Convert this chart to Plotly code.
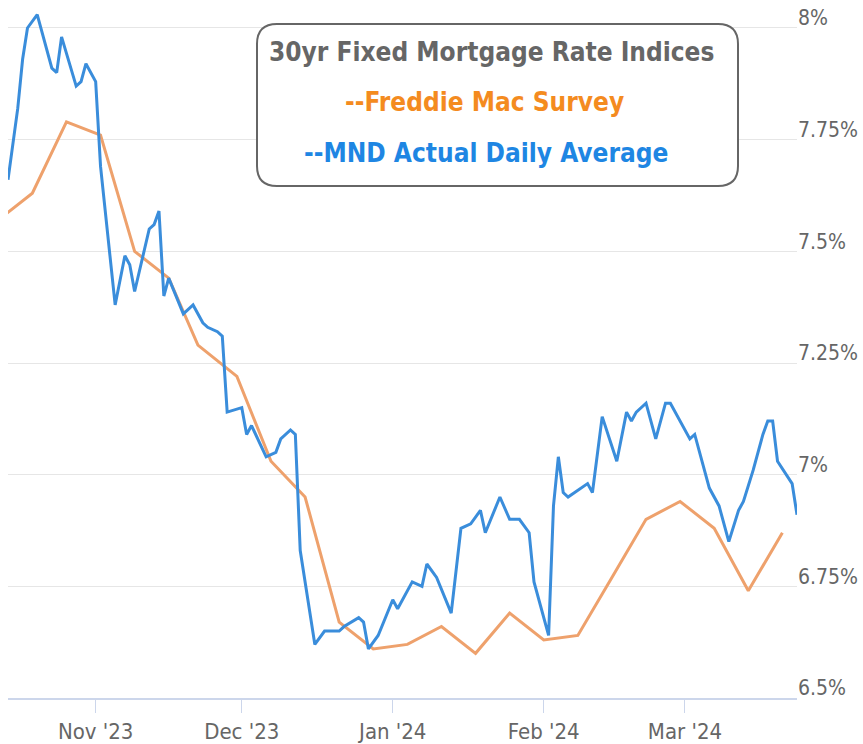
import plotly.graph_objects as go

# ---------------- data ----------------
mnd_dates = [
    "2023-10-14", "2023-10-16", "2023-10-17", "2023-10-18", "2023-10-20", "2023-10-23",
    "2023-10-24", "2023-10-25", "2023-10-28", "2023-10-29", "2023-10-30", "2023-11-01",
    "2023-11-02", "2023-11-05", "2023-11-07", "2023-11-08", "2023-11-09", "2023-11-12",
    "2023-11-13", "2023-11-14", "2023-11-15", "2023-11-16", "2023-11-19", "2023-11-21",
    "2023-11-23", "2023-11-24", "2023-11-26", "2023-11-27", "2023-11-28", "2023-12-01",
    "2023-12-02", "2023-12-03", "2023-12-06", "2023-12-08", "2023-12-09", "2023-12-11",
    "2023-12-12", "2023-12-13", "2023-12-16", "2023-12-18", "2023-12-19", "2023-12-21",
    "2023-12-22", "2023-12-25", "2023-12-26", "2023-12-27", "2023-12-29", "2024-01-01",
    "2024-01-02", "2024-01-05", "2024-01-07", "2024-01-08", "2024-01-10", "2024-01-13",
    "2024-01-15", "2024-01-17", "2024-01-19", "2024-01-20", "2024-01-23", "2024-01-25",
    "2024-01-27", "2024-01-29", "2024-01-30", "2024-02-02", "2024-02-03", "2024-02-04",
    "2024-02-05", "2024-02-06", "2024-02-10", "2024-02-11", "2024-02-13", "2024-02-16",
    "2024-02-18", "2024-02-19", "2024-02-20", "2024-02-22", "2024-02-24", "2024-02-26",
    "2024-02-27", "2024-02-29", "2024-03-02", "2024-03-03", "2024-03-06", "2024-03-08",
    "2024-03-10", "2024-03-12", "2024-03-13", "2024-03-15", "2024-03-17", "2024-03-18",
    "2024-03-19", "2024-03-20", "2024-03-23", "2024-03-24",
]
mnd_rates = [
    7.66, 7.82, 7.93, 8.00, 8.03, 7.91,
    7.90, 7.98, 7.87, 7.88, 7.92, 7.88,
    7.69, 7.38, 7.49, 7.47, 7.41, 7.55,
    7.56, 7.59, 7.40, 7.44, 7.36, 7.38,
    7.34, 7.33, 7.32, 7.31, 7.14, 7.15,
    7.09, 7.11, 7.04, 7.05, 7.08, 7.10,
    7.09, 6.83, 6.62, 6.65, 6.65, 6.65,
    6.66, 6.68, 6.67, 6.61, 6.64, 6.72,
    6.70, 6.76, 6.75, 6.80, 6.77, 6.69,
    6.88, 6.89, 6.92, 6.87, 6.95, 6.90,
    6.90, 6.87, 6.76, 6.64, 6.93, 7.04,
    6.96, 6.95, 6.98, 6.96, 7.13, 7.03,
    7.14, 7.12, 7.14, 7.16, 7.08, 7.16,
    7.16, 7.12, 7.08, 7.09, 6.97, 6.93,
    6.85, 6.92, 6.94, 7.01, 7.09, 7.12,
    7.12, 7.03, 6.98, 6.91,
]

fm_dates = [
    "2023-10-12", "2023-10-19", "2023-10-26", "2023-11-02", "2023-11-09", "2023-11-16",
    "2023-11-22", "2023-11-30", "2023-12-07", "2023-12-14", "2023-12-21", "2023-12-28",
    "2024-01-04", "2024-01-11", "2024-01-18", "2024-01-25", "2024-02-01", "2024-02-08",
    "2024-02-15", "2024-02-22", "2024-02-29", "2024-03-07", "2024-03-14", "2024-03-21",
]
fm_rates = [
    7.57, 7.63, 7.79, 7.76, 7.50, 7.44,
    7.29, 7.22, 7.03, 6.95, 6.67, 6.61,
    6.62, 6.66, 6.60, 6.69, 6.63, 6.64,
    6.77, 6.90, 6.94, 6.88, 6.74, 6.87,
]

x_tick_vals = ["2023-11-01", "2023-12-01", "2024-01-01", "2024-02-01", "2024-03-01"]
x_tick_text = ["Nov '23", "Dec '23", "Jan '24", "Feb '24", "Mar '24"]
y_tick_vals = [6.5, 6.75, 7.0, 7.25, 7.5, 7.75, 8.0]
y_tick_text = ["6.5%", "6.75%", "7%", "7.25%", "7.5%", "7.75%", "8%"]

legend_title = "30yr Fixed Mortgage Rate Indices"
legend_fm = "--Freddie Mac Survey"
legend_mnd = "--MND Actual Daily Average"

# ---------------- layout helpers ----------------
W, H = 863, 744
ML, MR, MT, MB = 8, 66, 0, 46
PW, PH = W - ML - MR, H - MT - MB


def px(xp):
    return (xp - ML) / PW


def py(yp):
    return (H - MB - yp) / PH


FONT = "DejaVu Sans Condensed, DejaVu Sans, Liberation Sans, sans-serif"

fig = go.Figure()
fig.add_trace(go.Scatter(
    x=fm_dates, y=fm_rates, mode="lines", name="Freddie Mac Survey",
    line=dict(color="#eea16c", width=3), hoverinfo="x+y",
))
fig.add_trace(go.Scatter(
    x=mnd_dates, y=mnd_rates, mode="lines", name="MND Actual Daily Average",
    line=dict(color="#3a8ddb", width=3), hoverinfo="x+y",
))

# rounded legend box
x0, x1, y0, y1, r = 257, 738, 24, 186, 20
path = (
    f"M {px(x0 + r)},{py(y0)} L {px(x1 - r)},{py(y0)} "
    f"Q {px(x1)},{py(y0)} {px(x1)},{py(y0 + r)} "
    f"L {px(x1)},{py(y1 - r)} Q {px(x1)},{py(y1)} {px(x1 - r)},{py(y1)} "
    f"L {px(x0 + r)},{py(y1)} Q {px(x0)},{py(y1)} {px(x0)},{py(y1 - r)} "
    f"L {px(x0)},{py(y0 + r)} Q {px(x0)},{py(y0)} {px(x0 + r)},{py(y0)} Z"
)
fig.add_shape(type="path", path=path, xref="paper", yref="paper",
              line=dict(color="#666666", width=2), fillcolor="white", layer="above")

for txt, cx, cy, col in [
    (legend_title, 491, 52, "#666666"),
    (legend_fm, 485, 102, "#f48b1f"),
    (legend_mnd, 486, 153, "#1e86e3"),
]:
    fig.add_annotation(text=txt, x=px(cx), y=py(cy), xref="paper", yref="paper",
                       showarrow=False, xanchor="center", yanchor="middle",
                       font=dict(family=FONT, size=26, color=col, weight="bold"))

fig.update_layout(
    width=W, height=H,
    margin=dict(l=ML, r=MR, t=MT, b=MB, autoexpand=False),
    paper_bgcolor="white", plot_bgcolor="white",
    showlegend=False,
    font=dict(family=FONT, color="#666666"),
    xaxis=dict(
        type="date", range=["2023-10-14", "2024-03-24"],
        tickvals=x_tick_vals, ticktext=x_tick_text,
        tickfont=dict(family=FONT, size=22, color="#666666"),
        showgrid=False, zeroline=False,
        showline=True, linecolor="#ccd6eb", linewidth=1.5,
        ticks="outside", ticklen=13, tickcolor="#ccd6eb", tickwidth=1,
        automargin=False,
    ),
    yaxis=dict(
        range=[6.5, 6.5 + PH / 446.67],
        side="right",
        tickvals=y_tick_vals, ticktext=y_tick_text,
        tickfont=dict(family=FONT, size=21, color="#666666"),
        ticklabelposition="outside",
        ticklabelshift=-10,
        showgrid=True, gridcolor="#e6e6e6", gridwidth=1.3,
        zeroline=False, showline=False, ticks="",
        automargin=False,
    ),
)

fig.write_html("out.html")
